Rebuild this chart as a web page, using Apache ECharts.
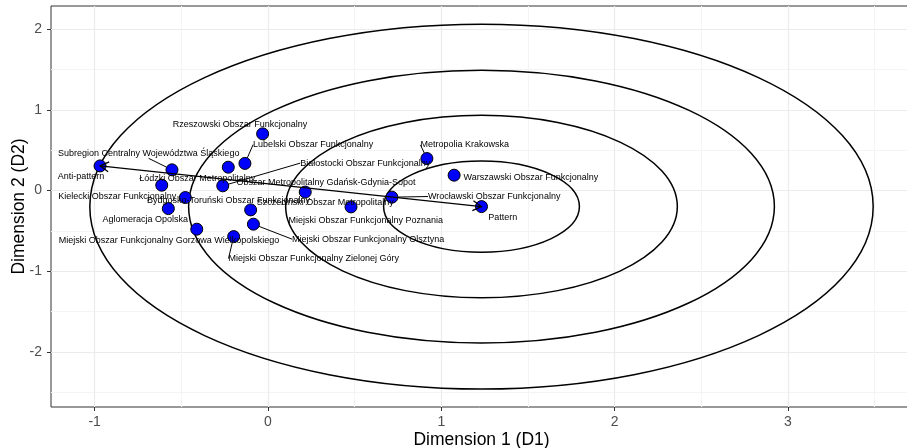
<!DOCTYPE html>
<html><head><meta charset="utf-8">
<script src="https://cdn.jsdelivr.net/npm/echarts@6/dist/echarts.min.js"></script>
<style>html,body{margin:0;padding:0;background:#fff}#c{width:907px;height:448px}</style>
</head><body><div id="c"></div>
<script>
// ---- data ----
const names = [
  'Anti-pattern',
  'Subregion Centralny Województwa Śląskiego',
  'Kielecki Obszar Funkcjonalny',
  'Łódzki Obszar Metropolitalny',
  'Lubelski Obszar Funkcjonalny',
  'Rzeszowski Obszar Funkcjonalny',
  'Białostocki Obszar Funkcjonalny',
  'Bydgosko-Toruński Obszar Funkcjonalny',
  'Aglomeracja Opolska',
  'Miejski Obszar Funkcjonalny Gorzowa Wielkopolskiego',
  'Miejski Obszar Funkcjonalny Zielonej Góry',
  'Szczeciński Obszar Metropolitalny',
  'Miejski Obszar Funkcjonalny Olsztyna',
  'Obszar Metropolitalny Gdańsk-Gdynia-Sopot',
  'Miejski Obszar Funkcjonalny Poznania',
  'Wrocławski Obszar Funkcjonalny',
  'Metropolia Krakowska',
  'Warszawski Obszar Funkcjonalny',
  'Pattern'
];
const d1 = [-0.969, -0.554, -0.613, -0.229, -0.133, -0.031, -0.261, -0.477, -0.575, -0.411,
            -0.198, -0.100, -0.084, 0.215, 0.479, 0.715, 0.917, 1.074, 1.232];
const d2 = [0.305, 0.256, 0.066, 0.289, 0.336, 0.702, 0.058, -0.087, -0.224, -0.479,
            -0.571, -0.240, -0.417, -0.019, -0.203, -0.082, 0.396, 0.190, -0.199];
const ringRadii = [0.565, 1.13, 1.69, 2.26];
const xTickValues = [-1, 0, 1, 2, 3];
const yTickValues = [-2, -1, 0, 1, 2];
const xTitle = 'Dimension 1 (D1)';
const yTitle = 'Dimension 2 (D2)';

// ---- label placement (pixels, relative to the point) ----
const labelOffsets = [
  [-19, 10.7], [-23.3, -16], [-44.4, 11.4], [-31.1, 11], [68.2, -18.8], [-22.7, -9.7],
  [142.5, -22.7], [43.2, 3], [-23.1, 10.6], [-27.7, 11.4], [80.1, 22], [74.6, -7.3],
  [114.7, 15], [20.8, -9.9], [14.7, 13.7], [102.3, -0.6], [37.8, -13.7], [76.7, 2.7], [21.3, 11]
];
const leaderIdx = [1, 4, 6, 10, 12, 15, 16];

const iAnti = names.indexOf('Anti-pattern');
const iPat = names.indexOf('Pattern');
const FONT = "'Liberation Sans', Arial, Helvetica, sans-serif";

const pointData = names.map((n, i) => ({
  name: n,
  value: [d1[i], d2[i]],
  labelLine: { show: leaderIdx.indexOf(i) >= 0, lineStyle: { color: '#000', width: 1 } }
}));
const ringData = ringRadii.map(r => [d1[iPat], d2[iPat], r]);
const arrowData = [[d1[iAnti], d2[iAnti], d1[iPat], d2[iPat]]];

const chart = echarts.init(document.getElementById('c'), null, { renderer: 'canvas' });

function headPts(tip, from, len, ang) {
  const a = Math.atan2(from[1] - tip[1], from[0] - tip[0]);
  return [
    [tip[0] + len * Math.cos(a + ang), tip[1] + len * Math.sin(a + ang)],
    tip,
    [tip[0] + len * Math.cos(a - ang), tip[1] + len * Math.sin(a - ang)]
  ];
}
const fmt = ticks => (v => (ticks.indexOf(Math.round(v * 1000) / 1000) >= 0 ? String(v) : ''));

chart.setOption({
  animation: false,
  textStyle: { fontFamily: FONT },
  grid: { left: 51, right: -5, top: 6, bottom: 41, show: true, borderColor: '#333', borderWidth: 1,
    containLabel: false, outerBoundsMode: 'none' },
  xAxis: {
    type: 'value', min: -1.252, max: 3.716, splitNumber: 5,
    name: xTitle, nameLocation: 'middle', nameGap: 24, nameMoveOverlap: false,
    nameTextStyle: { color: '#000', fontSize: 17.5, fontFamily: FONT },
    axisLine: { show: false, onZero: false },
    axisTick: { show: true, length: 4, customValues: xTickValues, lineStyle: { color: '#333' } },
    axisLabel: { color: '#4D4D4D', fontSize: 14, margin: 8, fontFamily: FONT,
      customValues: xTickValues, formatter: fmt(xTickValues) },
    splitLine: { show: true, lineStyle: { color: '#EBEBEB', width: 1.2 } },
    minorTick: { show: false, splitNumber: 2 },
    minorSplitLine: { show: true, lineStyle: { color: '#F4F4F4', width: 1 } }
  },
  yAxis: {
    type: 'value', min: -2.682, max: 2.286, splitNumber: 5,
    name: yTitle, nameLocation: 'middle', nameGap: 23, nameMoveOverlap: false,
    nameTextStyle: { color: '#000', fontSize: 17.5, fontFamily: FONT },
    axisLine: { show: false, onZero: false },
    axisTick: { show: true, length: 4, customValues: yTickValues, lineStyle: { color: '#333' } },
    axisLabel: { color: '#4D4D4D', fontSize: 14, margin: 9, fontFamily: FONT,
      customValues: yTickValues, formatter: fmt(yTickValues) },
    splitLine: { show: true, lineStyle: { color: '#EBEBEB', width: 1.2 } },
    minorTick: { show: false, splitNumber: 2 },
    minorSplitLine: { show: true, lineStyle: { color: '#F4F4F4', width: 1 } }
  },
  series: [
    {
      type: 'custom', z: 1, silent: true,
      encode: { x: 0, y: 1 },
      data: ringData,
      renderItem: function (params, api) {
        const c = api.coord([api.value(0), api.value(1)]);
        const r = api.value(2);
        const rx = api.size([r, 0])[0];
        const ry = api.size([0, r])[1];
        return { type: 'ellipse', shape: { cx: c[0], cy: c[1], rx: rx, ry: ry },
          style: { fill: null, stroke: '#000', lineWidth: 1.5 } };
      }
    },
    {
      type: 'scatter', z: 2,
      data: pointData,
      symbol: 'circle', symbolSize: 12,
      itemStyle: { color: '#0000FF', borderColor: '#000', borderWidth: 1, opacity: 1 },
      label: { show: true, position: 'inside', formatter: '{b}', color: '#000', fontSize: 9,
        fontFamily: FONT, align: 'center', verticalAlign: 'middle' },
      labelLayout: function (p) {
        const o = labelOffsets[p.dataIndex];
        return { dx: o[0], dy: o[1] };
      },
      emphasis: { disabled: true }
    },
    {
      type: 'custom', z: 3, silent: true,
      encode: { x: [0, 2], y: [1, 3] },
      data: arrowData,
      renderItem: function (params, api) {
        const a = api.coord([api.value(0), api.value(1)]);
        const b = api.coord([api.value(2), api.value(3)]);
        const st = { fill: null, stroke: '#000', lineWidth: 1.3 };
        return { type: 'group', children: [
          { type: 'line', shape: { x1: a[0], y1: a[1], x2: b[0], y2: b[1] }, style: st },
          { type: 'polyline', shape: { points: headPts(a, b, 10, Math.PI / 6) }, style: st },
          { type: 'polyline', shape: { points: headPts(b, a, 10, Math.PI / 6) }, style: st }
        ] };
      }
    }
  ]
});
</script></body></html>
